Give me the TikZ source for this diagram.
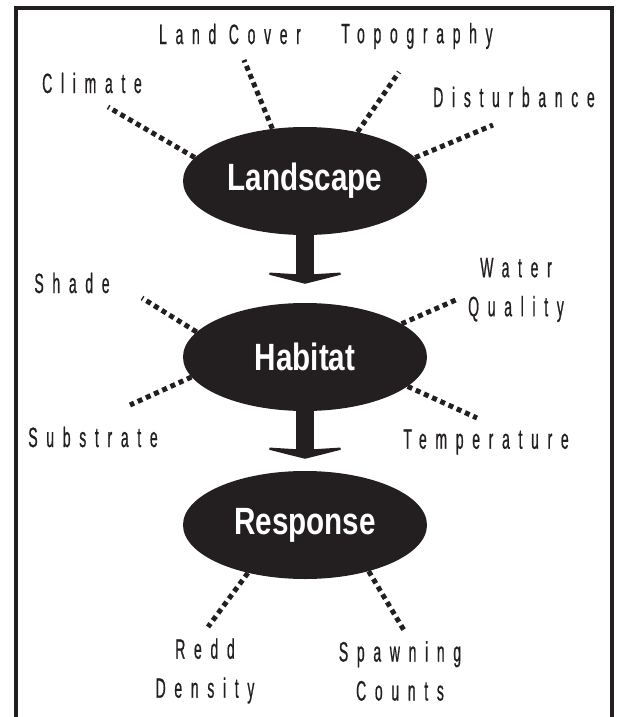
\documentclass[tikz,border=0pt]{standalone}
\usepackage{fontspec}
\usetikzlibrary{arrows.meta,shapes.geometric}
\newfontfamily\thinfont{Liberation Sans}[FakeStretch=0.5,LetterSpace=31,FakeBold=0.6]
\newfontfamily\fatfont{Liberation Sans}[FakeStretch=0.78]
\definecolor{myblack}{RGB}{35,31,32}

\begin{document}
\begin{tikzpicture}[x=1pt, y=-1pt,
        stage/.style={ellipse, fill=myblack, minimum width=244pt,
            minimum height=108pt, inner sep=0pt, text=white,
            font=\fatfont\bfseries\fontsize{38}{40}\selectfont},
        factor/.style={text=myblack, align=center, inner sep=0pt,
            font=\thinfont\fontsize{28}{39}\selectfont},
        dotline/.style={myblack, line width=5pt, dash pattern=on 5pt off 4pt},
        flow/.style={myblack, line width=18pt,
            -{Stealth[width=95pt, length=12pt, inset=3pt]}}]
    \useasboundingbox (0, 0) rectangle (616, 717);
    % Frame (open at the bottom)
    \draw[myblack, line width=4pt] (16, 717) -- (16, 8) -- (612, 8) -- (612, 717);

    % Stages
    \node[stage] (Landscape) at (305, 181) {Landscape};
    \node[stage] (Habitat) at (305, 357) {Habitat};
    \node[stage] (Response) at (305, 525) {Response};
    \draw[flow, shorten >=19pt] (Landscape.south) -- (Habitat.north);
    \draw[flow, shorten >=12pt] (Habitat.south) -- (Response.north);

    % Landscape factors
    \node[factor] (Climate) at (92, 83) {Climate};
    \node[factor] (LandCover) at (230, 34) {Land Cover};
    \node[factor] (Topography) at (417, 36) {Topography};
    \node[factor] (Disturbance) at (514, 97) {Disturbance};
    \coordinate (ClimateEnd) at (108, 107);
    \coordinate (LandCoverEnd) at (244, 60);
    \coordinate (TopographyEnd) at (399, 72);
    \coordinate (DisturbanceEnd) at (493, 125);
    \draw[dotline] (Landscape.168) -- (ClimateEnd);
    \draw[dotline] (Landscape.122) -- (LandCoverEnd);
    \draw[dotline] (Landscape.43) -- (TopographyEnd);
    \draw[dotline] (Landscape.12) -- (DisturbanceEnd);

    % Habitat factors
    \node[factor] (Shade) at (72, 283) {Shade};
    \node[factor] (WaterQuality) at (516, 290) {Water\\Quality};
    \node[factor] (Substrate) at (93, 437) {Substrate};
    \node[factor] (Temperature) at (486, 442) {Temperature};
    \coordinate (ShadeEnd) at (142, 298);
    \coordinate (WaterQualityEnd) at (458, 299);
    \coordinate (SubstrateEnd) at (130, 405);
    \coordinate (TemperatureEnd) at (477, 418);
    \draw[dotline] (Habitat.167) -- (ShadeEnd);
    \draw[dotline] (Habitat.19) -- (WaterQualityEnd);
    \draw[dotline] (Habitat.190) -- (SubstrateEnd);
    \draw[dotline] (Habitat.344) -- (TemperatureEnd);

    % Response measures
    \node[factor] (ReddDensity) at (205, 671) {Redd\\Density};
    \node[factor] (SpawningCounts) at (400, 671) {Spawning\\Counts};
    \coordinate (ReddDensityEnd) at (208, 627);
    \coordinate (SpawningCountsEnd) at (405, 632);
    \draw[dotline] (Response.220) -- (ReddDensityEnd);
    \draw[dotline] (Response.324) -- (SpawningCountsEnd);
\end{tikzpicture}
\end{document}
